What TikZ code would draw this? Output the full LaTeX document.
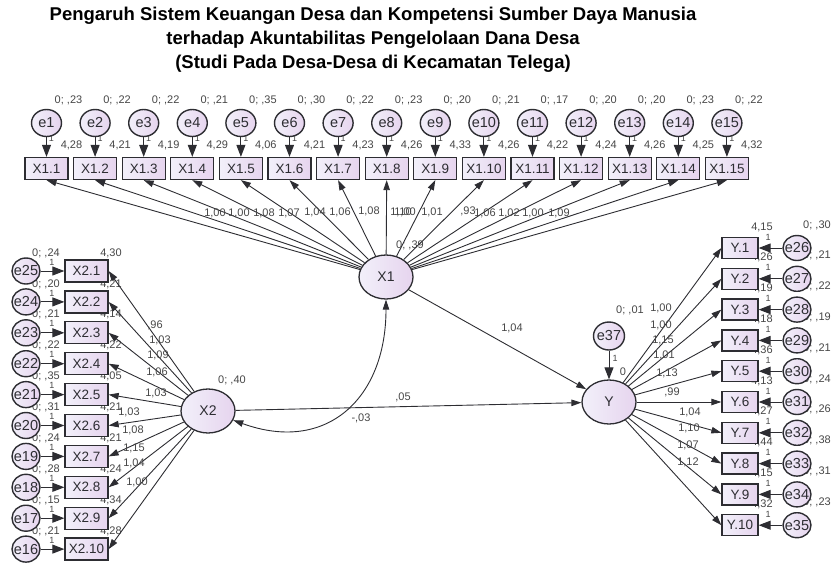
\documentclass[tikz,border=0pt]{standalone}
\usepackage{fontspec}
\setmainfont{Liberation Sans}
\usetikzlibrary{arrows.meta}
\usetikzlibrary{shapes.geometric}
\usetikzlibrary{positioning}

\definecolor{lavL}{RGB}{242,240,250}
\definecolor{lavR}{RGB}{230,212,238}
\definecolor{ink}{RGB}{45,45,50}
\definecolor{numgray}{RGB}{70,70,70}

\tikzset{
  obs/.style={draw=ink, line width=1.3pt, left color=lavL, right color=lavR,
    minimum width=43pt, minimum height=22pt, inner sep=0pt, text=ink,
    font=\fontsize{13.5}{13.5}\selectfont},
  lat/.style={ellipse, draw=ink, line width=1.3pt, left color=lavL, right color=lavR,
    minimum width=54pt, minimum height=44pt, inner sep=0pt, text=ink,
    font=\fontsize{14}{14}\selectfont},
  err/.style={ellipse, draw=ink, line width=1.4pt, left color=lavL, right color=lavR,
    minimum width=30pt, minimum height=27pt, inner sep=0pt, text=ink,
    font=\fontsize{14.5}{14.5}\selectfont},
  num/.style={inner sep=0pt, text=numgray, font=\fontsize{11}{11}\selectfont},
  one/.style={inner sep=0pt, text=numgray, font=\fontsize{9}{9}\selectfont},
  loading/.style={draw=ink, line width=0.9pt, -{Triangle[length=10pt,width=6.5pt]}},
  errarrow/.style={draw=ink, line width=1pt, -{Triangle[length=12pt,width=9pt]}},
  covar/.style={draw=ink, line width=0.9pt, {Triangle[length=10pt,width=6.5pt]}-{Triangle[length=10pt,width=6.5pt]}},
}

\begin{document}
\begin{tikzpicture}[x=1pt,y=-1pt]
\useasboundingbox (0,0) rectangle (833,563);

\node[font=\bfseries\fontsize{18.5}{24}\selectfont, align=center] (title) at (373,39.5)
  {Pengaruh Sistem Keuangan Desa dan Kompetensi Sumber Daya Manusia\\
   terhadap Akuntabilitas Pengelolaan Dana Desa\\
   (Studi Pada Desa-Desa di Kecamatan Telega)};

% X1 indicators, top row
\foreach \i/\v/\m in {1/23/28,2/22/21,3/22/19,4/21/29,5/35/06,6/30/21,7/22/23,8/23/26,
                      9/20/33,10/21/26,11/17/22,12/20/24,13/20/26,14/23/25,15/22/32}{
  \pgfmathsetmacro\xx{46.5+(\i-1)*48.6}
  \node[num] (ve\i) at (\xx+22,100) {0; ,\v};
  \node[num] (ix\i) at (\xx+25,145) {4,\m};
  \node[one] (o\i) at (\xx+5,138) {1};
  \node[err] (e\i) at (\xx,123) {\makebox[0pt]{e\i}};
  \node[obs] (x1-\i) at (\xx,168.5) {\makebox[0pt]{X1.\i}};
  \draw[errarrow] (e\i) -- (x1-\i);
}

% X2 indicators, left column (labels first, they sit behind)
\foreach \i/\v/\m in {1/24/30,2/20/21,3/21/14,4/22/22,5/35/05,6/31/21,7/24/21,8/28/24,9/15/34,10/21/28}{
  \pgfmathsetmacro\yy{271+(\i-1)*30.9}
  \node[num] (ve2-\i) at (46,\yy-18) {0; ,\v};
  \node[num] (ix2-\i) at (111,\yy-18) {4,\m};
  \node[one] (o2-\i) at (52,\yy-9) {1};
}
\foreach \i in {1,...,10}{
  \pgfmathsetmacro\yy{271+(\i-1)*30.9}
  \pgfmathtruncatemacro\e{26-\i}
  \node[err, minimum width=28pt, minimum height=26pt] (e\e) at (26,\yy) {\makebox[0pt]{e\e}};
  \node[obs] (x2-\i) at (86.5,\yy) {\makebox[0pt]{X2.\i}};
  \draw[errarrow] (e\e) -- (x2-\i);
}

% Y indicators, right column
\foreach \i/\v/\m in {1/30/15,2/21/26,3/22/19,4/19/18,5/21/36,6/24/13,7/26/27,8/38/44,9/31/15,10/23/32}{
  \pgfmathsetmacro\yy{248+(\i-1)*30.8}
  \node[num] (ve3-\i) at (817,\yy-23) {0; ,\v};
  \node[num] (ix3-\i) at (762,\yy-21) {4,\m};
  \node[one] (o3-\i) at (768,\yy-11) {1};
}
\foreach \i in {1,...,10}{
  \pgfmathsetmacro\yy{248+(\i-1)*30.8}
  \pgfmathtruncatemacro\e{25+\i}
  \node[err, minimum width=28pt, minimum height=25pt] (e\e) at (797,\yy) {\makebox[0pt]{e\e}};
  \node[obs, minimum width=36pt, minimum height=21pt] (y-\i) at (740,\yy) {\makebox[0pt]{Y.\i}};
  \draw[errarrow] (e\e) -- (y-\i);
}

% latent variables
\node[num] (vX1) at (410,245) {0; ,39};
\node[num] (vX2) at (232,380) {0; ,40};
\node[num] (ve37) at (630,310) {0; ,01};
\node[lat] (X1) at (386,277) {X1};
\node[lat] (X2) at (208,411) {X2};
\node[lat] (Y) at (609,402) {Y};
\node[err, minimum width=31pt, minimum height=28pt] (e37) at (609,336) {\makebox[0pt]{e37}};
\node[one] (o37) at (615,358) {1};
\node[num] (z37) at (623,372) {0};
\draw[errarrow] (e37) -- (Y);

% loadings
\foreach \i in {1,...,15} \draw[loading] (X1) -- (x1-\i.south);
\foreach \i in {1,...,10} \draw[loading] (X2) -- (x2-\i.east);
\foreach \i in {1,...,10} \draw[loading] (Y) -- (y-\i.west);

\foreach \t/\a/\b in {{1,00}/215/213,{1,00}/239/213,{1,08}/264/213,{1,07}/289/213,{1,04}/315/212,
    {1,06}/340/212,{1,08}/369/211,{1,10}/401/212,{1,00}/405/212,{1,01}/432/212,{,93}/468/211,
    {1,06}/485/213,{1,02}/509/213,{1,00}/533/213,{1,09}/559/213}
  \node[num] at (\a,\b) {\t};
\foreach \t/\a/\b in {{,96}/155/325,{1,03}/160/340,{1,09}/158/355,{1,06}/157/372,{1,03}/156/393,
    {1,03}/129/412,{1,08}/133/430,{1,15}/134/448,{1,04}/134/463,{1,00}/137/482}
  \node[num] at (\a,\b) {\t};
\foreach \t/\a/\b in {{1,00}/661/308,{1,00}/661/325,{1,15}/663/340,{1,01}/664/355,{1,13}/667/373,
    {,99}/672/392,{1,04}/690/412,{1,10}/689/428,{1,07}/688/445,{1,12}/688/462}
  \node[num] at (\a,\b) {\t};

% structural paths
\draw[loading] (X1) -- (Y);
\draw[loading] (X2) -- (Y);
\draw[covar] (X1) to[out=-90, in=-20, looseness=1.3] (X2);
\node[num] (bX1) at (512,328) {1,04};
\node[num] (bX2) at (403,397) {,05};
\node[num] (cov) at (361,418) {-,03};
\end{tikzpicture}
\end{document}
